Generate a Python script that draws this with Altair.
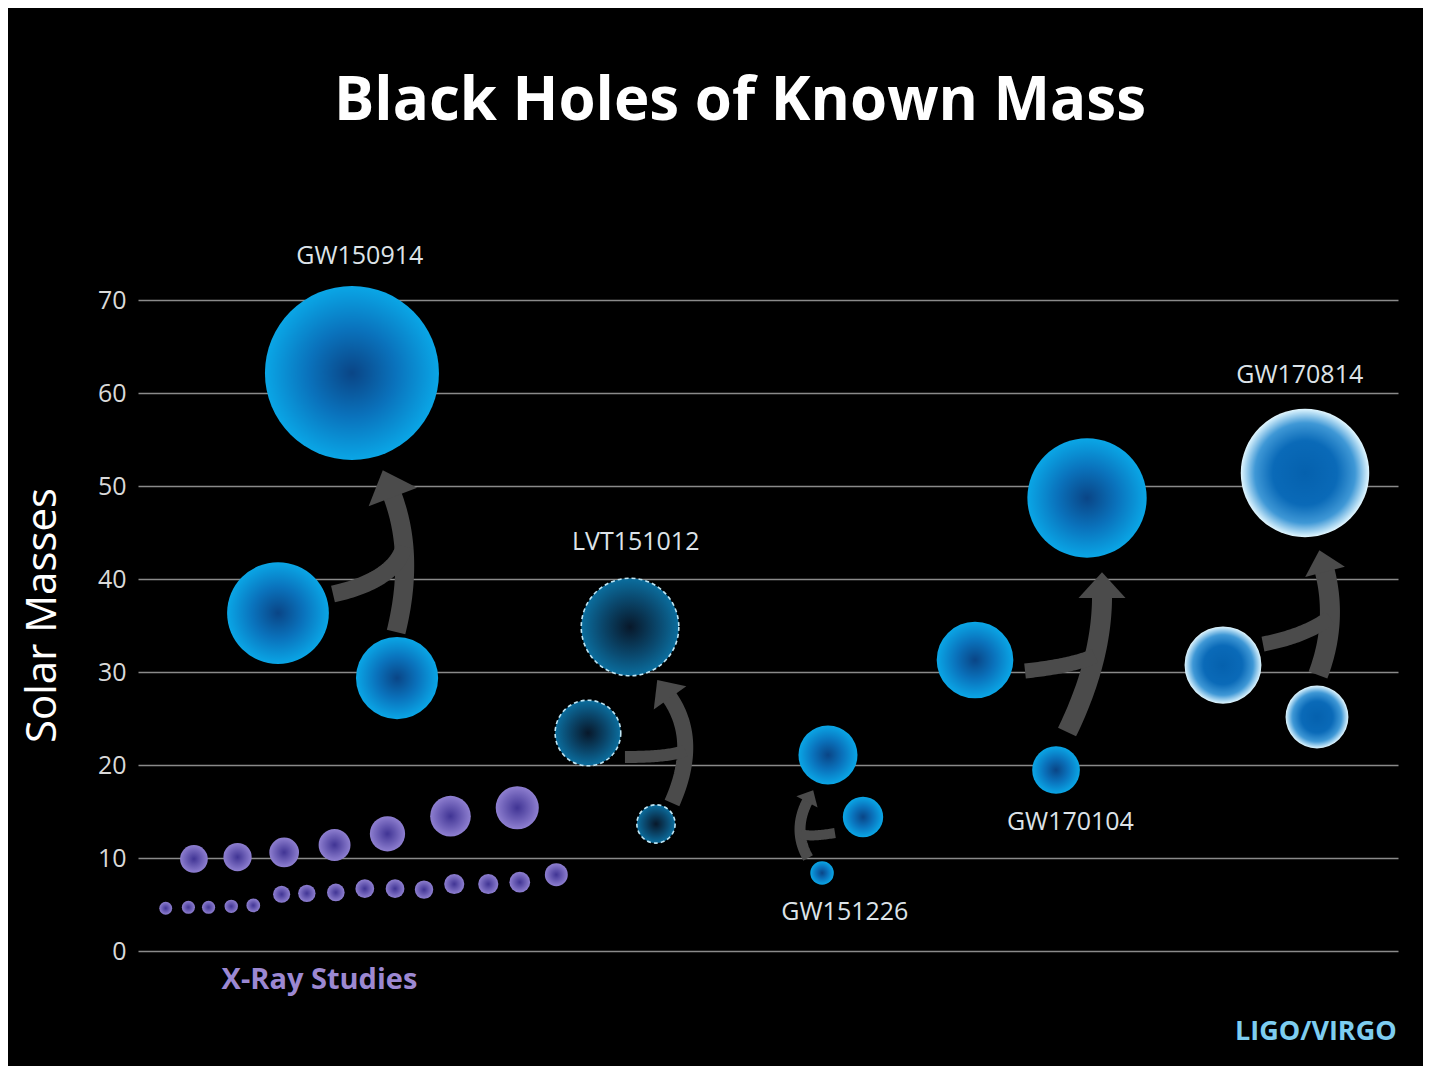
import altair as alt
import numpy as np
import pandas as pd

# ---------------- data ----------------
EVENTS = ["GW150914", "LVT151012", "GW151226", "GW170104", "GW170814"]
# horizontal slot (arbitrary 0-100 units) and mass (solar masses)
FINAL_X = [16.98, 39.05, 54.76, 75.32, 92.62]
FINAL_M = [62.15, 34.84, 21.08, 48.71, 51.40]
PRIMARY_X = [11.11, 35.71, 57.54, 66.43, 86.11]
PRIMARY_M = [36.34, 23.44, 14.41, 31.29, 30.75]
SECONDARY_X = [20.56, 41.11, 54.29, 72.86, 93.57]
SECONDARY_M = [29.35, 13.66, 8.39, 19.46, 25.16]

XRAY_X = [4.44, 7.9, 11.6, 15.6, 19.8, 24.8, 30.1,
          2.2, 4.0, 5.6, 7.4, 9.15, 11.4, 13.4, 15.7, 18.0, 20.4, 22.7, 25.1, 27.8, 30.3, 33.2]
XRAY_M = [9.9, 10.1, 10.6, 11.4, 12.6, 14.5, 15.4,
          4.6, 4.7, 4.7, 4.8, 4.9, 6.1, 6.2, 6.3, 6.7, 6.7, 6.6, 7.2, 7.2, 7.4, 8.2]

LABEL_TEXT = ["GW150914", "LVT151012", "GW151226", "GW170104", "GW170814"]
LABEL_X = [17.6, 39.5, 56.1, 74.0, 92.2]
LABEL_Y = [74.7, 44.0, 4.2, 13.9, 61.9]

Y_TICKS = [0, 10, 20, 30, 40, 50, 60, 70]

# ---------------- styles ----------------
W, H = 1260, 651
X_DOM, Y_DOM = [0, 100], [0, 70]
FONT = "Open Sans"

STYLE = {  # diameter factor (px per solar mass) and look
    "GW150914": (2.8, "blue"), "LVT151012": (2.8, "lvt"), "GW151226": (2.8, "blue"),
    "GW170104": (2.45, "blue"), "GW170814": (2.5, "pale"),
}
XRAY_K = 2.8

def radial(stops):
    return {"gradient": "radial",
            "stops": [{"offset": o, "color": c} for o, c in stops]}

BLUE = radial([(0, "#0a4586"), (0.5, "#0a72bc"), (1, "#0aa6e6")])
LVT = radial([(0, "#08182a"), (0.6, "#0a4a70"), (1, "#0b6e9e")])
PALE = radial([(0, "#0561ae"), (0.5, "#0a6ab8"), (0.78, "#3f98d6"), (1, "#e2f7ff")])
PURPLE = radial([(0, "#403494"), (1, "#8e7fd0")])
ARROW_COLOR = "#4b4b4b"

# arrow geometry in px offsets relative to the circles (s0,s1: secondary; s2: final; b0,b1: primary)
ARROW_STYLE = {
    "GW150914": dict(s0=(-1, -46), s1=(18, -123), s2=(41, 124), b0=(55, -19), b1=(117, -33), tj=0.6, w=19, bw=17, hw=52),
    "LVT151012": dict(s0=(16, -21), s1=(44, -84), s2=(40, 71), b0=(37, 24), b1=(82, 24), tj=0.45, w=16, bw=12, hw=40),
    "GW151226": dict(s0=(-14, -15), s1=(-30, -43), s2=(-21, 47), b0=(-28, 16), b1=(-58, 21), tj=0.45, w=11, bw=10, hw=24),
    "GW170104": dict(s0=(11, -38), s1=(46, -110), s2=(15, 100), b0=(50, 11), b1=(97, 6), tj=0.55, w=20, bw=15, hw=47),
    "GW170814": dict(s0=(1, -42), s1=(21, -95), s2=(20, 99), b0=(40, -21), b1=(82, -29), tj=0.55, w=20, bw=15, hw=41),
}
HEAD_PATH = "M0,-0.6L1,0.5L-1,0.5Z"


def to_px(x, y):
    return np.array([x * W / 100.0, (70 - y) * H / 70.0])


def to_data(p):
    return p[..., 0] * 100.0 / W, 70 - p[..., 1] * 70.0 / H


def bez(p0, p1, p2, t):
    t = np.asarray(t)[:, None]
    return (1 - t) ** 2 * p0 + 2 * t * (1 - t) * p1 + t ** 2 * p2


# ---------------- tables ----------------
rows = []
for i, ev in enumerate(EVENTS):
    k, look = STYLE[ev]
    for role, xs, ms in (("final", FINAL_X, FINAL_M), ("primary", PRIMARY_X, PRIMARY_M),
                         ("secondary", SECONDARY_X, SECONDARY_M)):
        rows.append(dict(event=ev, role=role, x=xs[i], y=ms[i], look=look, s=(k * ms[i]) ** 2))
bh = pd.DataFrame(rows)
xray = pd.DataFrame(dict(x=XRAY_X, y=XRAY_M, s=[(XRAY_K * m) ** 2 for m in XRAY_M]))

line_rows, head_rows = [], []
tt = np.linspace(0, 1, 40)
for i, ev in enumerate(EVENTS):
    st = ARROW_STYLE[ev]
    F = to_px(FINAL_X[i], FINAL_M[i])
    A = to_px(PRIMARY_X[i], PRIMARY_M[i])
    B = to_px(SECONDARY_X[i], SECONDARY_M[i])
    p0, p1, p2 = B + st["s0"], B + st["s1"], F + st["s2"]
    d = p2 - p1
    d = d / np.linalg.norm(d)
    shaft = bez(p0, p1, p2 + 2 * d, tt)
    sx, sy = to_data(shaft)
    for j in range(len(tt)):
        line_rows.append(dict(seg=ev + "-shaft", i=j, x=sx[j], y=sy[j], w=st["w"]))
    join = bez(p0, p1, p2, [st["tj"]])[0]
    br = bez(A + st["b0"], A + st["b1"], join, tt)
    bx, by = to_data(br)
    for j in range(len(tt)):
        line_rows.append(dict(seg=ev + "-branch", i=j, x=bx[j], y=by[j], w=st["bw"]))
    s = st["hw"] / 2.0
    c = p2 + 0.5 * s * d
    cx, cy = to_data(c)
    ang = float(np.degrees(np.arctan2(d[0], -d[1]))) % 360
    head_rows.append(dict(x=float(cx), y=float(cy), s=st["hw"] ** 2, ang=ang))
lines = pd.DataFrame(line_rows)
heads = pd.DataFrame(head_rows)

labels = pd.DataFrame(dict(text=LABEL_TEXT, x=LABEL_X, y=LABEL_Y))
xray_label = pd.DataFrame(dict(text=["X-Ray Studies"], x=[14.4], y=[-3.1]))
credit = pd.DataFrame(dict(text=["LIGO/VIRGO"], x=[99.9], y=[-8.7]))

# ---------------- chart ----------------
X = alt.X("x:Q", scale=alt.Scale(domain=X_DOM, nice=False, zero=False), axis=None)
Y = alt.Y("y:Q", scale=alt.Scale(domain=Y_DOM, nice=False, zero=False),
          axis=alt.Axis(values=Y_TICKS, title="Solar Masses", grid=True, gridColor="#8a8a8a",
                        gridWidth=1.6, domain=False, ticks=False, labelColor="#d9d9d9",
                        labelFont=FONT, labelFontSize=25, labelPadding=12,
                        titleFont=FONT, titleFontSize=42, titleFontWeight="normal",
                        titleColor="#ffffff", titleAngle=270, titleX=-83, titleY=315,
                        titleAlign="center", titleBaseline="alphabetic"))
SIZE = alt.Size("s:Q", scale=None, legend=None)

arrows = alt.Chart(lines).mark_line(color=ARROW_COLOR, opacity=1, strokeCap="butt",
                                    strokeJoin="round").encode(
    x=X, y=Y, strokeWidth=alt.StrokeWidth("w:Q", scale=None, legend=None),
    detail="seg:N", order=alt.Order("i:Q"))
arrow_heads = alt.Chart(heads).mark_point(shape=HEAD_PATH, filled=True, color=ARROW_COLOR,
                                          opacity=1, strokeWidth=0).encode(
    x=X, y=Y, size=SIZE, angle=alt.Angle("ang:Q", scale=None))

def circles(look, fill, **kw):
    return alt.Chart(bh).transform_filter(alt.datum.look == look).mark_circle(
        fill=fill, opacity=1, **kw).encode(x=X, y=Y, size=SIZE, tooltip=["event:N", "role:N", "y:Q"])

blue = circles("blue", BLUE, strokeWidth=0)
lvt = circles("lvt", LVT, stroke="#bfe6f5", strokeDash=[4, 3], strokeWidth=1.6)
pale = circles("pale", PALE, strokeWidth=0)
xr = alt.Chart(xray).mark_circle(fill=PURPLE, opacity=1, strokeWidth=0).encode(x=X, y=Y, size=SIZE)

ev_text = alt.Chart(labels).mark_text(font=FONT, fontSize=25, color="#dde3e8",
                                      align="center", baseline="middle").encode(x=X, y=Y, text="text:N")
xr_text = alt.Chart(xray_label).mark_text(font=FONT, fontSize=29, fontWeight="bold", color="#9c88d2",
                                          align="center", baseline="middle").encode(x=X, y=Y, text="text:N")
cr_text = alt.Chart(credit).mark_text(font=FONT, fontSize=27, fontWeight="bold", color="#7dcdf0",
                                      align="right", baseline="middle").encode(x=X, y=Y, text="text:N")

chart = alt.layer(arrows, arrow_heads, xr, blue, lvt, pale, ev_text, xr_text, cr_text).properties(
    width=W, height=H,
    title=alt.Title("Black Holes of Known Mass", font=FONT, fontSize=60, fontWeight="bold",
                    color="#ffffff", anchor="middle", dx=-28, offset=111),
    autosize=alt.AutoSizeParams(type="none"),
    padding={"left": 130, "top": 292, "right": 25, "bottom": 115},
).configure(background="#000000").configure_view(stroke=None)

chart.save("out.html", embed_options={"renderer": "svg", "actions": False})
